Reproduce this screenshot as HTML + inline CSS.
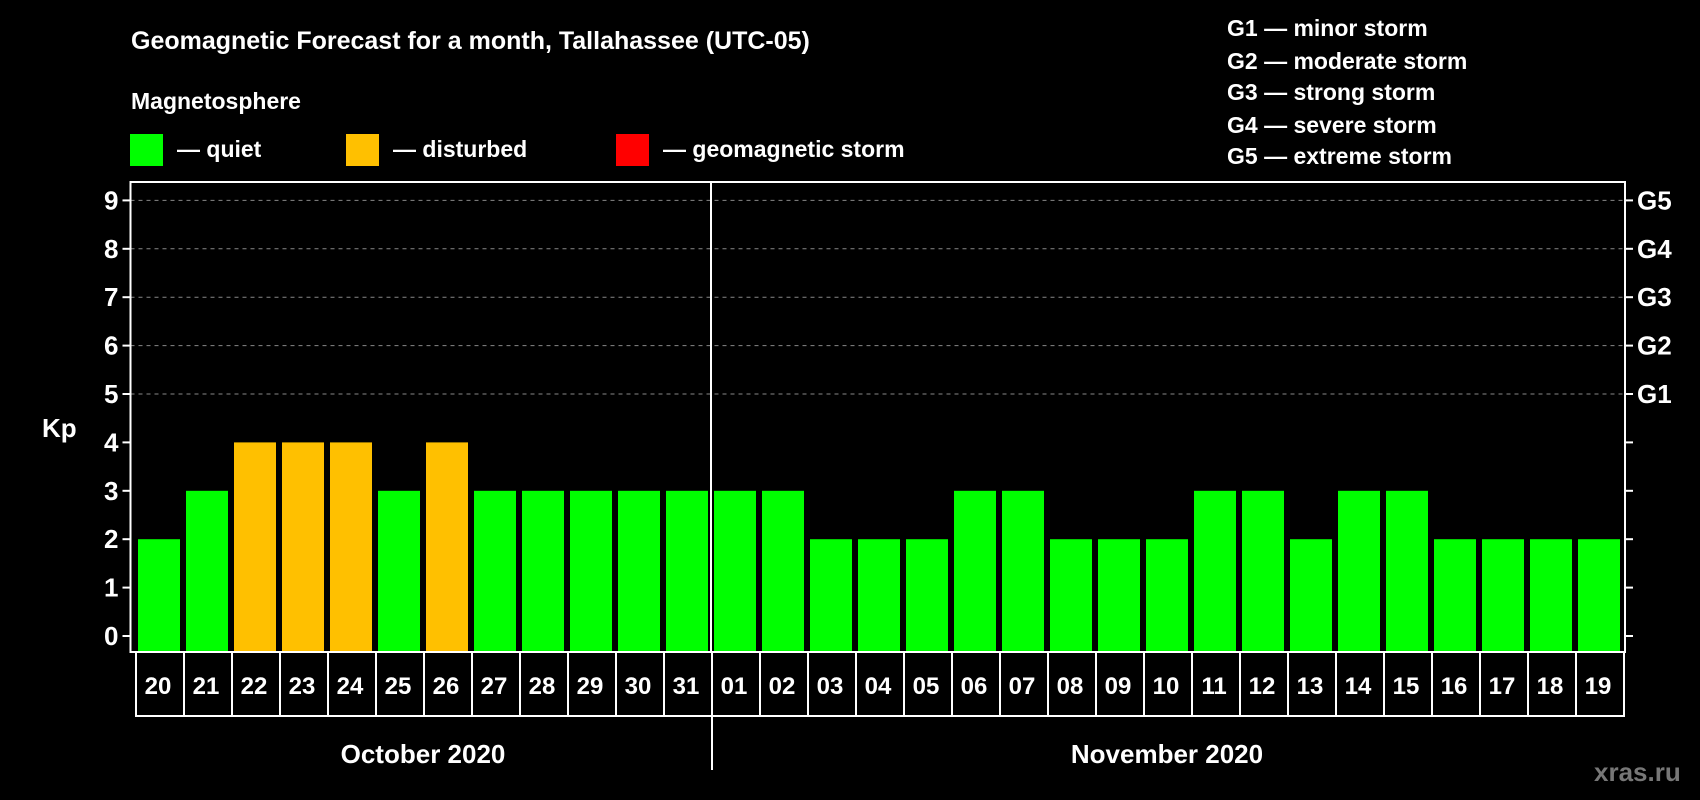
<!DOCTYPE html>
<html><head><meta charset="utf-8"><style>
body{margin:0;background:#000;width:1700px;height:800px;overflow:hidden}
svg{display:block;font-family:"Liberation Sans",sans-serif;font-weight:bold}
</style></head><body>
<svg width="1700" height="800">
<text x="131" y="49" fill="#fff" font-size="25">Geomagnetic Forecast for a month, Tallahassee (UTC-05)</text>
<text x="131" y="109" fill="#fff" font-size="23">Magnetosphere</text>
<g><rect x="130" y="134" width="33" height="32" fill="#00ff00"/><text x="177" y="157" fill="#fff" font-size="23">— quiet</text></g>
<g><rect x="346" y="134" width="33" height="32" fill="#ffc000"/><text x="393" y="157" fill="#fff" font-size="23">— disturbed</text></g>
<g><rect x="616" y="134" width="33" height="32" fill="#ff0000"/><text x="663" y="157" fill="#fff" font-size="23">— geomagnetic storm</text></g>
<g fill="#fff" font-size="23">
<text x="1227" y="36">G1 — minor storm</text>
<text x="1227" y="69">G2 — moderate storm</text>
<text x="1227" y="100">G3 — strong storm</text>
<text x="1227" y="133">G4 — severe storm</text>
<text x="1227" y="164">G5 — extreme storm</text>
</g>
<text x="42" y="437" fill="#fff" font-size="26">Kp</text>
<text x="1594" y="781" fill="#777" font-size="26">xras.ru</text>
<text x="423" y="763" fill="#fff" font-size="26" text-anchor="middle">October 2020</text>
<text x="1167" y="763" fill="#fff" font-size="26" text-anchor="middle">November 2020</text>
<g id="plot"></g>
</svg>
<script>
const days=["20","21","22","23","24","25","26","27","28","29","30","31","01","02","03","04","05","06","07","08","09","10","11","12","13","14","15","16","17","18","19"];
const kp=[2,3,4,4,4,3,4,3,3,3,3,3,3,3,2,2,2,3,3,2,2,2,3,3,2,3,3,2,2,2,2];
const yTicks=[0,1,2,3,4,5,6,7,8,9];
const gLabels=["G1","G2","G3","G4","G5"];
const NS="http://www.w3.org/2000/svg";
const g=document.getElementById('plot');
const L=130.5,R=1625,T=182,B=652,x0=138,pitch=48,bw=42;
const y=v=>636-v*48.4;
const x=i=>x0+i*pitch;
function mk(t,a){const e=document.createElementNS(NS,t);for(const k in a)e.setAttribute(k,a[k]);g.appendChild(e);return e;}
yTicks.forEach(v=>{
 if(v>=5){const l=mk('line',{x1:L,x2:R,y1:y(v),y2:y(v),stroke:'#888','stroke-dasharray':'4 4','stroke-width':1});
 
 }
 const t1=mk('line',{x1:L-8,x2:L,y1:y(v),y2:y(v),stroke:'#fff','stroke-width':2});
 
 
 const t2=mk('line',{x1:R,x2:R+8,y1:y(v),y2:y(v),stroke:'#fff','stroke-width':2});
 
 
 const tx=mk('text',{x:L-12,y:y(v)+9,fill:'#fff','font-size':26,'text-anchor':'end'});tx.textContent=v;
 
 
});
gLabels.forEach((s,i)=>{const tx=mk('text',{x:R+12,y:y(5+i)+9,fill:'#fff','font-size':26});tx.textContent=s;
 
 });
kp.forEach((v,i)=>{
 const c=v>=5?'#ff0000':v>=4?'#ffc000':'#00ff00';
 const r=mk('rect',{x:x(i),y:y(v),width:bw,height:B-y(v),fill:c});
 
 
});
const box=mk('rect',{x:L,y:T,width:R-L,height:B-T,fill:'none',stroke:'#fff','stroke-width':2});


const mi=days.indexOf("01");
const div=mk('line',{x1:x(mi)-3,x2:x(mi)-3,y1:T,y2:B,stroke:'#fff','stroke-width':2});


const cb=mk('rect',{x:x(0)-2,y:B,width:days.length*pitch,height:64,fill:'none',stroke:'#fff','stroke-width':2});


days.forEach((d,i)=>{
 if(i>0){const l=mk('line',{x1:x(i)-2,x2:x(i)-2,y1:B,y2:B+64,stroke:'#fff','stroke-width':2});
 
 }
 const t=mk('text',{x:x(i)+bw/2-1,y:B+42,fill:'#fff','font-size':24,'text-anchor':'middle'});t.textContent=d;
 
 
});
const ml=mk('line',{x1:x(mi)-2,x2:x(mi)-2,y1:B+64,y2:B+118,stroke:'#fff','stroke-width':2});


</script>
</body></html>
